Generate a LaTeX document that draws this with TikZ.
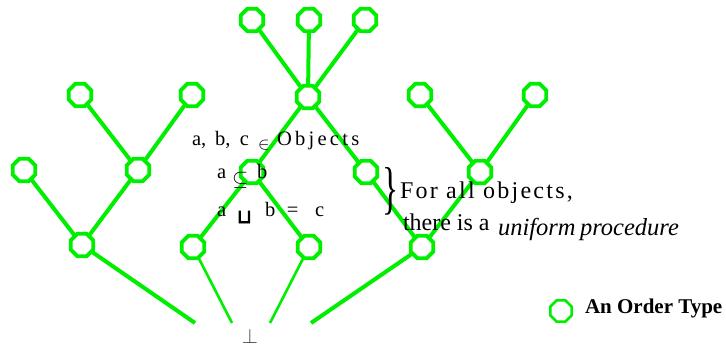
\documentclass[tikz,border=0pt]{standalone}
\usepackage{fontspec}
\usepackage{graphicx}
\setmainfont{Liberation Serif}
\newfontfamily\heavysym[FakeBold=4]{DejaVu Sans}
\usetikzlibrary{shapes.geometric}
\definecolor{lime}{RGB}{0,238,0}
\tikzset{
  otype/.style={regular polygon, regular polygon sides=8, draw=lime, line width=2.6pt,
    minimum size=23pt, inner sep=0pt, fill=white},
  thick edge/.style={draw=lime, line width=4pt},
  thin edge/.style={draw=lime, line width=2.6pt},
  txt/.style={anchor=base west, inner sep=0pt, outer sep=0pt, text=black},
}
\begin{document}
\begin{tikzpicture}[x=1pt, y=-1pt]
\useasboundingbox (0,0) rectangle (726,345);
% center tree
\node[otype] (c1) at (252,20) {};
\node[otype] (c2) at (309,20) {};
\node[otype] (c3) at (365,20) {};
\node[otype] (ch) at (308,97) {};
\node[otype] (cl) at (252,172) {};
\node[otype] (cr) at (366,172) {};
\node[otype] (cll) at (193,247) {};
\node[otype] (clr) at (309,247) {};
\node[otype] (m) at (422,247) {};
% left tree
\node[otype] (l1) at (80,95) {};
\node[otype] (l2) at (192,95) {};
\node[otype] (lm) at (138,170) {};
\node[otype] (l3) at (24,170) {};
\node[otype] (lb) at (82,245) {};
% right tree
\node[otype] (r1) at (420,95) {};
\node[otype] (r2) at (535,95) {};
\node[otype] (rm) at (480,172) {};
% free ends
\coordinate (e1) at (195,323);
\coordinate (e2) at (232,323);
\coordinate (e3) at (270,323);
\coordinate (e4) at (311,323);
% edges
\draw[thick edge] (c1) -- (ch);
\draw[thick edge] (c2) -- (ch);
\draw[thick edge] (c3) -- (ch);
\draw[thick edge] (ch) -- (cl);
\draw[thick edge] (ch) -- (cr);
\draw[thick edge] (cl) -- (cll);
\draw[thick edge] (cl) -- (clr);
\draw[thick edge] (cr) -- (m);
\draw[thick edge] (r1) -- (rm);
\draw[thick edge] (r2) -- (rm);
\draw[thick edge] (rm) -- (m);
\draw[thick edge] (l1) -- (lm);
\draw[thick edge] (l2) -- (lm);
\draw[thick edge] (lm) -- (lb);
\draw[thick edge] (l3) -- (lb);
\draw[thick edge] (lb) -- (e1);
\draw[thin edge] (cll) -- (e2);
\draw[thin edge] (clr) -- (e3);
\draw[thick edge] (m) -- (e4);
% redraw node outlines on top
\foreach \n in {c1,c2,c3,ch,cl,cr,cll,clr,m,l1,l2,lm,l3,lb,r1,r2,rm}
  \draw[lime, line width=2.6pt] (\n.corner 1) -- (\n.corner 2) -- (\n.corner 3) -- (\n.corner 4) -- (\n.corner 5) -- (\n.corner 6) -- (\n.corner 7) -- (\n.corner 8) -- cycle;
% bottom
\node[anchor=north, inner sep=0pt, text={rgb,255:red,60;green,60;blue,60}] (bot) at (250,329) {\fontsize{21}{21}\selectfont$\perp$};
% formulas
\node[txt] (f1) at (192,146) {\fontsize{20.5}{22}\selectfont
  \makebox[23pt][l]{a,}\makebox[25pt][l]{b,}\makebox[18pt][l]{c}\makebox[19pt][l]{\raisebox{-4pt}{\fontsize{19}{19}\selectfont$\in$}}{\addfontfeature{LetterSpace=16}Objects}};
\node[txt] (f2) at (217,178) {\fontsize{20.5}{22}\selectfont
  \makebox[15pt][l]{a}\makebox[25pt][l]{\raisebox{-7pt}{\fontsize{19.5}{20}\selectfont$\subseteq$}}b};
\node[txt] (f3) at (217,216) {\fontsize{20.5}{22}\selectfont
  \makebox[20pt][l]{a}\makebox[28pt][l]{\raisebox{-7pt}{\fontsize{19}{19}\selectfont\heavysym ⊔}}\makebox[22pt][l]{b}\makebox[28pt][l]{=}c};
% right text
\node[txt] (br) at (382,207.6) {\fontsize{24}{24}\selectfont\scalebox{1.4}[2.4]{\}}};
\node[txt] (t1) at (400,198) {\fontsize{24}{28}\selectfont\addfontfeature{LetterSpace=9.5}For all objects,};
\node[txt] (t2) at (403,230) {\fontsize{24}{28}\selectfont there is a};
\node[txt] (t3) at (498,235) {\fontsize{24.5}{28}\selectfont\itshape uniform\hspace{4.5pt}procedure};
% legend
\node[otype] (lg) at (561,311) {};
\node[txt] (lgt) at (585,313) {\fontsize{21}{22}\selectfont\bfseries An Order Type};
\end{tikzpicture}
\end{document}
